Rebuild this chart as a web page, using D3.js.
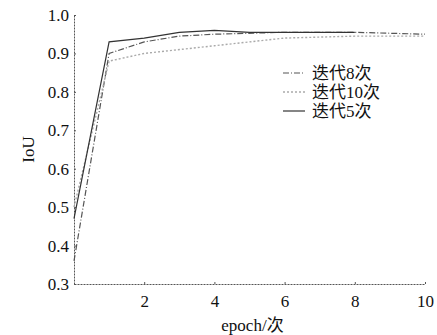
<!DOCTYPE html>
<html>
<head>
<meta charset="utf-8">
<script src="https://cdn.jsdelivr.net/npm/d3@7"></script>
<style>
  body { margin: 0; background: #fff; }
  text { font-family: "Liberation Serif", "Noto Sans CJK SC", serif; fill: #111; }
</style>
</head>
<body>
<figure id="chart" style="margin:0"></figure>
<script>
// data
const epochs8 = [0, 1, 2, 3, 4, 6, 8, 10];
const iou8 = [0.36, 0.90, 0.93, 0.945, 0.95, 0.955, 0.955, 0.95];
const epochs10 = [0, 1, 2, 4, 6, 8, 10];
const iou10 = [0.50, 0.88, 0.90, 0.92, 0.94, 0.945, 0.945];
const epochs5 = [0, 1, 2, 3, 4, 5, 6, 8];
const iou5 = [0.47, 0.93, 0.94, 0.955, 0.96, 0.955, 0.955, 0.955];
const xTicks = [2, 4, 6, 8, 10];
const yTicks = [0.3, 0.4, 0.5, 0.6, 0.7, 0.8, 0.9, 1.0];
const labels = ["迭代8次", "迭代10次", "迭代5次"];

const W = 437, H = 335;
const margin = {top: 15, right: 12, bottom: 51, left: 74};
const width = W - margin.left - margin.right;
const height = H - margin.top - margin.bottom;

const svg = d3.select("figure#chart")
  .append("svg")
  .attr("width", W)
  .attr("height", H)
  .append("g")
  .attr("transform", "translate(" + margin.left + "," + margin.top + ")");

const x = d3.scaleLinear().domain([0, 10]).range([0, width]);
const y = d3.scaleLinear().domain([0.3, 1.0]).range([height, 0]);

// axes, ticks pointing inward
const xAxis = svg.append("g")
  .attr("transform", "translate(0," + height + ")")
  .call(d3.axisBottom(x).tickValues(xTicks).tickFormat(d3.format("d"))
    .tickSizeInner(-3).tickSizeOuter(0).tickPadding(11));
const yAxis = svg.append("g")
  .call(d3.axisLeft(y).tickValues(yTicks).tickFormat(d3.format(".1f"))
    .tickSizeInner(-3).tickSizeOuter(0).tickPadding(5));
[xAxis, yAxis].forEach(a => {
  a.selectAll("path, line").attr("stroke", "#555").attr("stroke-dasharray", "2,1");
  a.selectAll("text").style("font-size", "17px");
});

const series = [
  {xs: epochs8, ys: iou8, color: "#555", dash: "6,2,1,2", w: 1.2},
  {xs: epochs10, ys: iou10, color: "#aaa", dash: "2,2", w: 1.4},
  {xs: epochs5, ys: iou5, color: "#333", dash: null, w: 1.2}
];

const line = d3.line().x(d => x(d[0])).y(d => y(d[1]));
series.forEach(s => {
  svg.append("path")
    .datum(s.xs.map((e, i) => [e, s.ys[i]]))
    .attr("d", line)
    .attr("fill", "none")
    .attr("stroke", s.color)
    .attr("stroke-width", s.w)
    .attr("stroke-dasharray", s.dash);
});

// legend
const legend = svg.append("g").attr("transform", "translate(209,58)");
series.forEach((s, i) => {
  const g = legend.append("g").attr("transform", "translate(0," + (i * 19) + ")");
  g.append("line")
    .attr("x1", 0).attr("x2", 22).attr("y1", 0).attr("y2", 0)
    .attr("stroke", s.color).attr("stroke-width", s.w)
    .attr("stroke-dasharray", s.dash);
  g.append("text")
    .attr("x", 29).attr("y", 6)
    .style("font-size", "17px")
    .text(labels[i]);
});

// axis labels
svg.append("text")
  .attr("x", width / 2 + 3).attr("y", height + 47)
  .attr("text-anchor", "middle")
  .style("font-size", "17px")
  .text("epoch/次");
svg.append("text")
  .attr("transform", "translate(-40," + (height / 2) + ") rotate(-90)")
  .attr("text-anchor", "middle")
  .style("font-size", "17px")
  .text("IoU");
</script>
</body>
</html>
